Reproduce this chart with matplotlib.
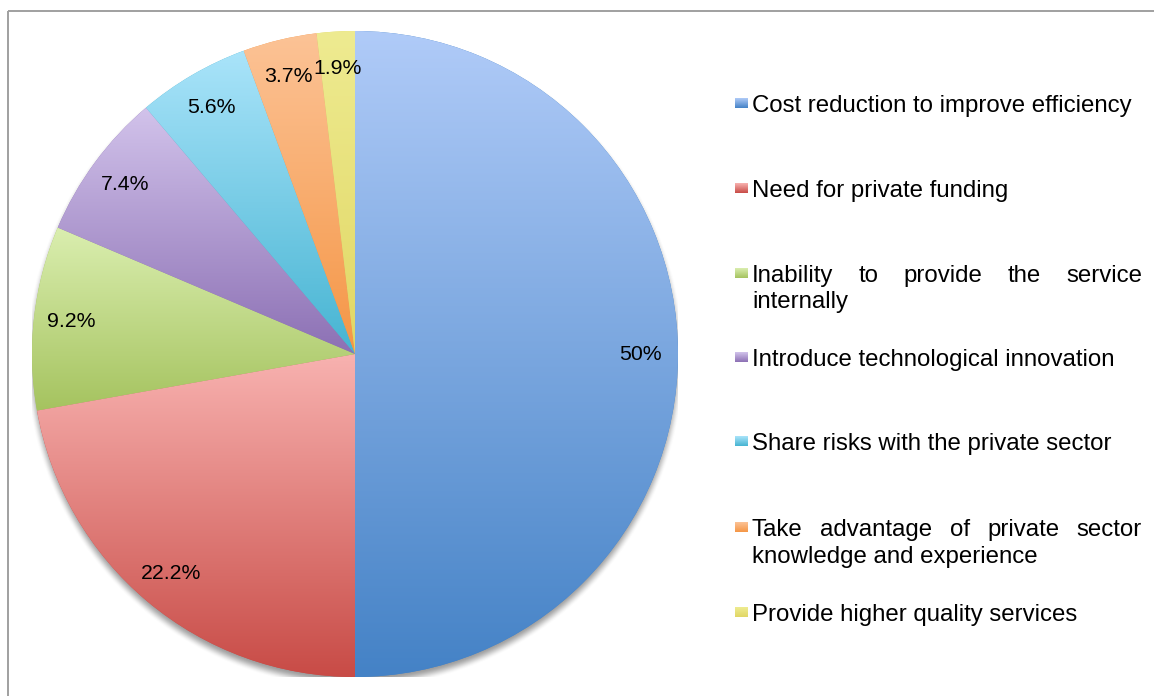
import numpy as np
import matplotlib
matplotlib.use("Agg")
import matplotlib.pyplot as plt
from matplotlib.colors import LinearSegmentedColormap

# ---- data ----
categories = [
    "Cost reduction to improve efficiency",
    "Need for private funding",
    "Inability to provide the service internally",
    "Introduce technological innovation",
    "Share risks with the private sector",
    "Take advantage of private sector knowledge and experience",
    "Provide higher quality services",
]
shares = [50, 22.2, 9.2, 7.4, 5.6, 3.7, 1.9]
# legend lines as wrapped on the page (justified when more than one line)
legend_lines = [
    ["Cost reduction to improve efficiency"],
    ["Need for private funding"],
    ["Inability to provide the service", "internally"],
    ["Introduce technological innovation"],
    ["Share risks with the private sector"],
    ["Take advantage of private sector", "knowledge and experience"],
    ["Provide higher quality services"],
]

# ---- styling ----
grad_top = ["#B0CBF8", "#F8B2B0", "#DAEEAF", "#D2C3EB", "#AAE4FA", "#FCC396", "#EEEB91"]
grad_bot = ["#4482C6", "#C84B46", "#A5C35F", "#8C70B4", "#46B4D2", "#F59646", "#E1D764"]
FONT = "Liberation Sans"
W, H = 1154, 696
cx, cy, R = 355, 354, 323

fig = plt.figure(figsize=(W / 100, H / 100), dpi=100)
fig.patch.set_facecolor("white")

# pie axes: a square whose data unit equals the pie radius
ax = fig.add_axes([(cx - R) / W, (H - cy - R) / H, 2 * R / W, 2 * R / H])
ax.set_xlim(-1, 1)
ax.set_ylim(-1, 1)
ax.set_aspect("equal")
ax.axis("off")

# soft drop shadow under the pie
g = np.linspace(-1.1, 1.1, 600)
xx, yy = np.meshgrid(g, g)
d = np.hypot(xx, yy + 0.016)
t = np.clip((d - 0.985) / 0.035, 0, 1)
alpha = 0.55 * (1 - t * t * (3 - 2 * t))
shadow = np.zeros((600, 600, 4))
shadow[..., :3] = 0.3
shadow[..., 3] = alpha
ax.imshow(shadow, extent=(-1.1, 1.1, -1.1, 1.1), origin="lower", zorder=0,
          interpolation="bilinear")
ax.set_xlim(-1, 1)
ax.set_ylim(-1, 1)

wedges, texts = ax.pie(
    shares, startangle=90, counterclock=False, radius=1,
    labels=[f"{v:g}%" for v in shares], labeldistance=0.885,
    colors=[matplotlib.colors.to_rgba(c) for c in grad_bot],
    wedgeprops=dict(linewidth=0),
    textprops=dict(fontsize=15.3, family=FONT, color="black", ha="center", va="center"),
)
for t_ in texts:
    t_.set_ha("center")
    t_.set_va("center")
    t_.set_zorder(5)

# vertical gradient inside each wedge
for w, ct, cb in zip(wedges, grad_top, grad_bot):
    ext = w.get_path().get_extents()
    cmap = LinearSegmentedColormap.from_list("g", [cb, ct])
    grad = np.linspace(0, 1, 256).reshape(-1, 1)
    im = ax.imshow(grad, cmap=cmap, origin="lower", aspect="auto",
                   extent=(ext.x0, ext.x1, ext.y0, ext.y1), zorder=2,
                   interpolation="bilinear")
    im.set_clip_path(w)
    w.set_facecolor(matplotlib.colors.to_rgba(cb))
    w.set_edgecolor("none")
    w.set_zorder(1)
ax.set_xlim(-1, 1)
ax.set_ylim(-1, 1)

# overlay axes in pixel coordinates for border and legend
ov = fig.add_axes([0, 0, 1, 1], facecolor="none")
ov.set_xlim(0, W)
ov.set_ylim(H, 0)
ov.axis("off")
ov.plot([7.5, W], [10.5, 10.5], color="#A0A0A0", lw=1.4, solid_capstyle="butt")
ov.plot([7.5, 7.5], [10.5, H], color="#A0A0A0", lw=1.4, solid_capstyle="butt")

fig.canvas.draw()
renderer = fig.canvas.get_renderer()

fs = 17.3
x_text, x_right = 752, 1142
baselines = [[112], [197], [282, 308], [366], [450], [536, 563], [621]]
for lines, ys, ct, cb in zip(legend_lines, baselines, grad_top, grad_bot):
    # gradient square marker
    cmap = LinearSegmentedColormap.from_list("g", [ct, cb])
    grad = np.linspace(0, 1, 64).reshape(-1, 1)
    ymid = ys[0] - 8.5
    ov.imshow(grad, cmap=cmap, aspect="auto", interpolation="bilinear",
              extent=(735, 748, ymid + 5, ymid - 5), zorder=3)
    for i, (line, yb) in enumerate(zip(lines, ys)):
        last = i == len(lines) - 1
        if last:
            ov.text(x_text, yb, line, fontsize=fs, family=FONT, va="baseline",
                    ha="left", color="black")
        else:
            words = line.split()
            objs = [ov.text(0, yb, wd, fontsize=fs, family=FONT, va="baseline",
                            ha="left", color="black") for wd in words]
            widths = [o.get_window_extent(renderer).width for o in objs]
            gap = (x_right - x_text - sum(widths)) / (len(words) - 1)
            x = x_text
            for o, wd in zip(objs, widths):
                o.set_x(x)
                x += wd + gap
ov.set_xlim(0, W)
ov.set_ylim(H, 0)

fig.savefig("out.png", dpi=100, facecolor="white")
